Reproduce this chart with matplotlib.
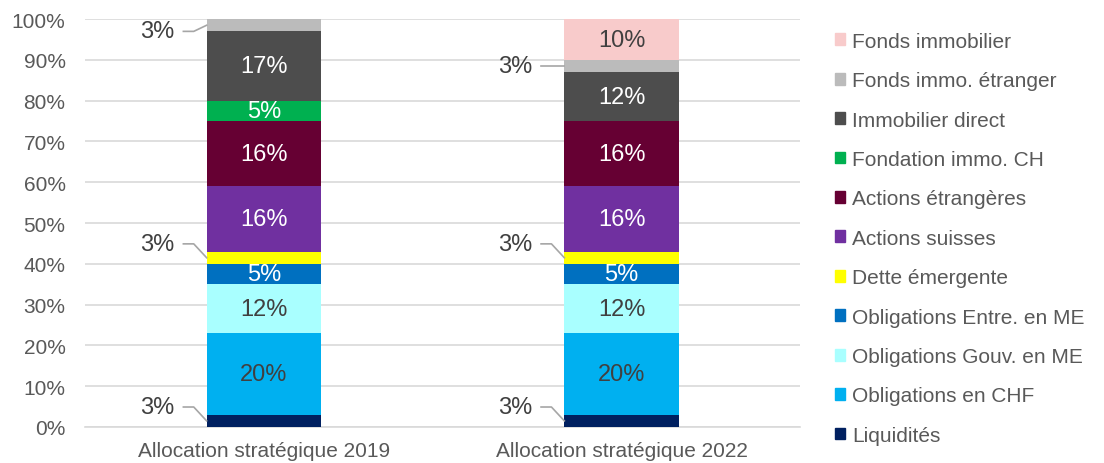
import numpy as np
import matplotlib.pyplot as plt
from matplotlib.patches import Patch

plt.rcParams['font.family'] = ['Liberation Sans', 'DejaVu Sans']

categories = ['Allocation stratégique 2019', 'Allocation stratégique 2022']
series = ['Liquidités', 'Obligations en CHF', 'Obligations Gouv. en ME',
          'Obligations Entre. en ME', 'Dette émergente', 'Actions suisses',
          'Actions étrangères', 'Fondation immo. CH', 'Immobilier direct',
          'Fonds immo. étranger', 'Fonds immobilier']
values_2019 = [3, 20, 12, 5, 3, 16, 16, 5, 17, 3, 0]
values_2022 = [3, 20, 12, 5, 3, 16, 16, 0, 12, 3, 10]
colors = ['#002060', '#00B0F0', '#A9FFFF', '#0070C0', '#FFFF00', '#7030A0',
          '#660033', '#00B050', '#4D4D4D', '#BBBBBB', '#F8CBCB']
text_colors = ['w', '#404040', '#404040', 'w', '#404040', 'w',
               'w', 'w', 'w', '#404040', '#404040']

txt = '#595959'
fig = plt.figure(figsize=(11.04, 4.64), dpi=100)
ax = fig.add_axes([0.077, 0.0776, 0.648, 0.879])

data = np.array([values_2019, values_2022])
x = np.arange(len(categories))
width = 0.32
bottom = np.zeros(len(categories))
for i, name in enumerate(series):
    vals = data[:, i]
    ax.bar(x, vals, width, bottom=bottom, color=colors[i], label=name, zorder=3)
    for j in range(len(categories)):
        v = vals[j]
        if v == 0:
            continue
        mid = bottom[j] + v / 2
        if v >= 5:
            ax.text(x[j], mid, f'{v}%', ha='center', va='center', fontsize=17,
                    color=text_colors[i], zorder=4)
        else:
            # leader-line label on the left of the bar
            left = x[j] - width / 2
            if i == 9:
                ty = mid - 1.5 if j == 0 else mid
            else:
                ty = mid + 3.4
            ax.plot([left - 0.065, left - 0.036, left], [ty, ty, mid],
                    color='#A6A6A6', lw=1.2, zorder=4, clip_on=False)
            ax.text(left - 0.09, ty, f'{v}%', ha='right', va='center',
                    fontsize=17, color='#404040')
    bottom += vals

ax.set_xlim(-0.5, 1.5)
ax.set_ylim(0, 100)
ax.set_yticks(np.arange(0, 101, 10))
ax.set_yticklabels([f'{t}%' for t in range(0, 101, 10)])
ax.set_xticks(x)
ax.set_xticklabels(categories)
ax.tick_params(axis='both', length=0, labelsize=15, colors=txt)
ax.tick_params(axis='y', pad=14)
ax.tick_params(axis='x', pad=10)
ax.grid(axis='y', color='#D9D9D9', lw=1.2, zorder=0)
for s in ['top', 'right', 'left']:
    ax.spines[s].set_visible(False)
ax.spines['bottom'].set_color('#D9D9D9')
ax.spines['bottom'].set_linewidth(1.2)

handles = [Patch(color=colors[i], label=series[i]) for i in range(len(series))][::-1]
fig.legend(handles=handles, loc='upper left', bbox_to_anchor=(0.739, 0.97),
           frameon=False, fontsize=15, labelcolor=txt, handlelength=0.5,
           handleheight=0.5, handletextpad=0.35, labelspacing=0.98)

fig.savefig('out.png', dpi=100)
